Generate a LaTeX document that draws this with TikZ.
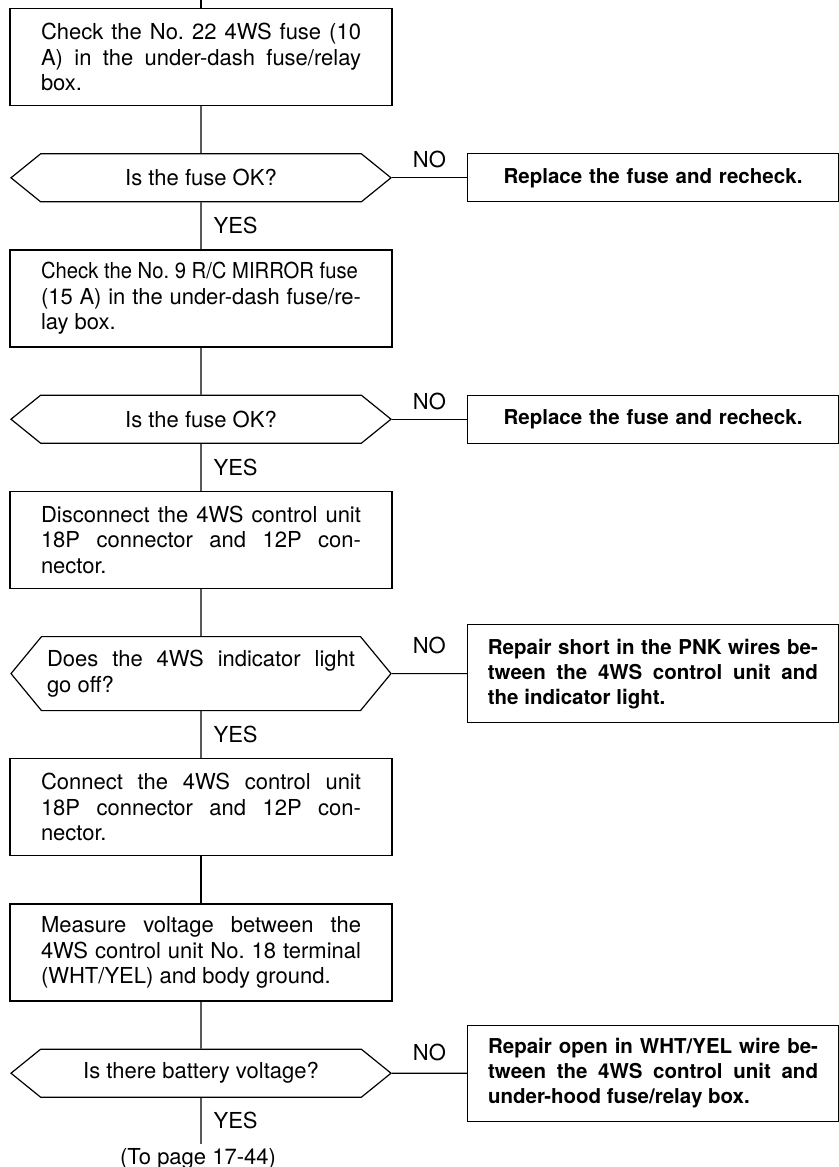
\documentclass[tikz,border=0pt]{standalone}
\usepackage{fontspec}
\setmainfont{TeX Gyre Heros}
\frenchspacing
\usetikzlibrary{shapes.symbols, positioning, calc}

\begin{document}
\begin{tikzpicture}[
    x=1pt, y=-1pt,
    font=\fontsize{22}{25.5}\selectfont,
    line width=1.2pt,
    node distance = 47pt and 75pt,
    % --- box styles ---
    chk/.style = {rectangle, draw, text width=320pt, inner xsep=31pt,
                  inner ysep=4pt, minimum height=97pt, align=justify},
    ask/.style = {signal, signal to=west and east, signal pointer angle=78,
                  draw, minimum width=380pt, minimum height=48pt,
                  inner ysep=3pt, align=center},
    fix/.style = {rectangle, draw, font=\fontsize{20.5}{25}\selectfont\bfseries,
                  text width=330pt, inner xsep=20.5pt, inner ysep=4pt,
                  minimum height=48pt, align=center},
    lbl/.style = {inner sep=1pt}
]
\useasboundingbox (0,0) rectangle (838,1167);

% ===================== MAIN COLUMN =====================
\coordinate (top) at (201,0);
\node[chk] (chk22) [below=8pt of top] {Check the No. 22 4WS fuse (10\linebreak
    A) in the under-dash fuse/relay\linebreak box.};
\node[ask] (fuse22) [below=of chk22] {Is the fuse OK?};
\node[chk] (chk9)   [below=of fuse22] {\scalebox{0.92}[1]{Check the No. 9 R/C MIRROR fuse}\linebreak
    (15 A) in the under-dash fuse/re-\linebreak lay box.};
\node[ask] (fuse9)  [below=of chk9] {Is the fuse OK?};
\node[chk] (disc)   [below=of fuse9] {Disconnect the 4WS control unit\linebreak
    18P connector and 12P con-\linebreak nector.};
\node[ask, minimum height=74pt, signal pointer angle=101, text width=308pt,
      align=justify] (light) [below=of disc] {Does the 4WS indicator light\linebreak go off?};
\node[chk] (conn)   [below=of light] {Connect the 4WS control unit\linebreak
    18P connector and 12P con-\linebreak nector.};
\node[chk] (meas)   [below=of conn] {Measure voltage between the\linebreak
    4WS control unit No. 18 terminal\linebreak (WHT/YEL) and body ground.};
\node[ask] (batt)   [below=of meas] {Is there battery voltage?};
\coordinate[below=46pt of batt] (cont);
\node[lbl, below=3pt of cont, xshift=-3pt] (topage) {(To page 17-44)};

% ===================== NO BRANCH (right) =====================
\node[fix, minimum width=371pt] (repl22) [right=of fuse22] {Replace the fuse and recheck.};
\node[fix, minimum width=371pt] (repl9)  [right=of fuse9]  {Replace the fuse and recheck.};
\node[fix, minimum width=371pt, minimum height=98pt, align=justify] (short) [right=of light]
    {Repair short in the PNK wires be-\linebreak tween the 4WS control unit and\linebreak
     the indicator light.};
\node[fix, minimum width=371pt, minimum height=96pt, align=justify] (open) [right=of batt]
    {Repair open in WHT/YEL wire be-\linebreak tween the 4WS control unit and\linebreak
     under-hood fuse/relay box.};

% ===================== CONNECTORS =====================
\draw (top)    -- (chk22);
\draw (chk22)  -- (fuse22);
\draw (fuse22) -- (chk9);
\draw (chk9)   -- (fuse9);
\draw (fuse9)  -- (disc);
\draw (disc)   -- (light);
\draw (light)  -- (conn);
\draw (conn)   -- (meas);
\draw (meas)   -- (batt);
\draw (batt)   -- (cont);

\draw (fuse22) -- (repl22);
\draw (fuse9)  -- (repl9);
\draw (light)  -- (short);
\draw (batt)   -- (open);

% YES labels
\node[lbl, right=11pt] at ($(fuse22.south)!0.5!(chk9.north)$) {YES};
\node[lbl, right=11pt] at ($(fuse9.south)!0.5!(disc.north)$)  {YES};
\node[lbl, right=11pt] at ($(light.south)!0.5!(conn.north)$)  {YES};
\node[lbl, right=11pt] at ($(batt.south)!0.5!(cont)$)         {YES};

% NO labels
\node[lbl, above=8pt]  at ($(fuse22.east)!0.5!(repl22.west)$) {NO};
\node[lbl, above=8pt]  at ($(fuse9.east)!0.5!(repl9.west)$)   {NO};
\node[lbl, above=18pt] at ($(light.east)!0.5!(short.west)$)   {NO};
\node[lbl, above=11pt] at ($(batt.east)!0.5!(open.west)$)     {NO};

\end{tikzpicture}
\end{document}
